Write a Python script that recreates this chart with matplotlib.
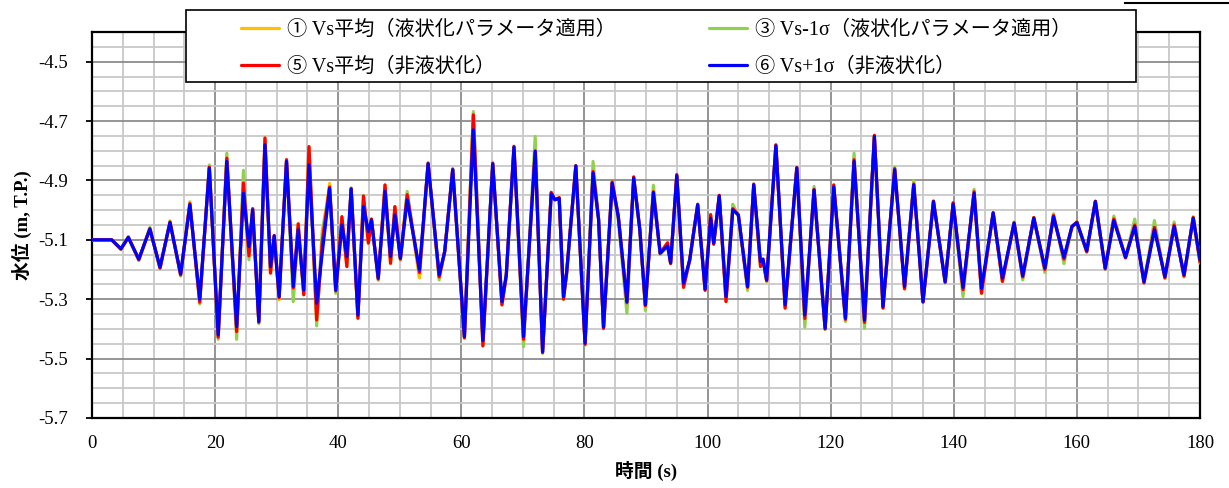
import matplotlib
matplotlib.use("Agg")
import matplotlib.pyplot as plt
import numpy as np
from matplotlib.lines import Line2D
from matplotlib.patches import Rectangle
from matplotlib.ticker import FixedLocator, MultipleLocator, FormatStrFormatter

plt.rcParams["font.family"] = ["Liberation Serif", "Noto Sans CJK JP"]

# time (s) of the read-off turning points
time = [
    0.0, 3.2, 4.7, 5.9, 7.6, 9.4, 11.05, 12.67, 14.4, 15.9,
    17.5, 19.06, 20.5, 21.9, 23.5, 24.6, 25.5, 26.1, 27.1, 28.1,
    29.0, 29.6, 30.4, 31.6, 32.7, 33.5, 34.4, 35.25, 36.5, 37.4,
    38.6, 39.6, 40.6, 41.4, 42.1, 43.2, 44.1, 44.9, 45.4, 46.5,
    47.6, 48.5, 49.2, 50.1, 51.2, 53.2, 54.6, 56.4, 57.3, 58.6,
    60.5, 61.95, 63.5, 65.1, 66.6, 67.3, 68.55, 70.1, 72.0, 73.2,
    74.6, 75.2, 75.9, 76.6, 77.1, 78.6, 80.1, 81.4, 82.3, 83.1,
    84.5, 85.5, 86.9, 88.0, 89.0, 89.9, 91.2, 92.3, 93.5, 94.0,
    95.0, 96.1, 97.1, 98.4, 99.6, 100.5, 101.0, 101.9, 103.0, 104.1,
    105.0, 106.5, 107.5, 108.6, 109.0, 109.6, 111.1, 112.6, 114.5, 115.8,
    117.3, 119.1, 120.5, 122.4, 123.8, 125.5, 127.1, 128.5, 130.4, 132.0,
    133.5, 135.0, 136.7, 138.6, 139.9, 141.5, 143.3, 144.5, 146.4, 147.9,
    149.8, 151.2, 153.0, 154.8, 156.2, 157.9, 159.2, 160.0, 161.6, 163.0,
    164.6, 166.0, 167.9, 169.4, 170.9, 172.6, 174.3, 175.8, 177.4, 178.9,
    180.0,
]

# (6) Vs+1σ non-liquefaction
vs_p1 = [
    -5.100, -5.100, -5.130, -5.092, -5.165, -5.064, -5.192, -5.042, -5.215, -4.982,
    -5.300, -4.858, -5.420, -4.836, -5.392, -4.943, -5.123, -4.999, -5.375, -4.780,
    -5.190, -5.087, -5.291, -4.836, -5.257, -5.066, -5.269, -4.847, -5.313, -5.145,
    -4.926, -5.269, -5.050, -5.156, -4.929, -5.353, -4.988, -5.072, -5.033, -5.229,
    -4.937, -5.156, -5.016, -5.162, -4.965, -5.201, -4.844, -5.218, -5.140, -4.864,
    -5.426, -4.729, -5.439, -4.844, -5.308, -5.218, -4.788, -5.426, -4.802, -5.477,
    -4.945, -4.965, -4.960, -5.291, -5.212, -4.851, -5.448, -4.875, -5.033, -5.394,
    -4.909, -5.022, -5.308, -4.892, -5.066, -5.319, -4.941, -5.145, -5.120, -5.177,
    -4.884, -5.246, -5.167, -4.982, -5.266, -5.027, -5.111, -4.952, -5.291, -4.999,
    -5.016, -5.257, -4.915, -5.173, -5.165, -5.235, -4.783, -5.319, -4.858, -5.353,
    -4.932, -5.398, -4.922, -5.364, -4.836, -5.370, -4.752, -5.325, -4.864, -5.257,
    -4.915, -5.308, -4.971, -5.241, -4.979, -5.260, -4.943, -5.263, -5.010, -5.229,
    -5.044, -5.221, -5.027, -5.195, -5.022, -5.159, -5.055, -5.042, -5.137, -4.971,
    -5.195, -5.035, -5.159, -5.055, -5.241, -5.066, -5.224, -5.055, -5.218, -5.027,
    -5.167,
]

# (5) Vs average non-liquefaction
vs_avg_nl = [
    -5.100, -5.100, -5.131, -5.091, -5.167, -5.062, -5.195, -5.040, -5.218, -4.978,
    -5.310, -4.855, -5.428, -4.825, -5.409, -4.909, -5.154, -4.995, -5.378, -4.757,
    -5.212, -5.085, -5.295, -4.830, -5.262, -5.046, -5.285, -4.786, -5.370, -5.106,
    -4.922, -5.272, -5.022, -5.190, -4.927, -5.364, -4.952, -5.111, -5.030, -5.232,
    -4.915, -5.179, -4.988, -5.165, -4.948, -5.210, -4.842, -5.225, -5.138, -4.862,
    -5.430, -4.679, -5.457, -4.842, -5.319, -5.220, -4.785, -5.435, -4.800, -5.480,
    -4.940, -4.965, -4.958, -5.300, -5.210, -4.850, -5.452, -4.870, -5.030, -5.398,
    -4.905, -5.020, -5.312, -4.888, -5.066, -5.322, -4.938, -5.145, -5.110, -5.180,
    -4.880, -5.260, -5.167, -4.980, -5.270, -5.015, -5.115, -4.950, -5.308, -4.995,
    -5.016, -5.260, -4.912, -5.190, -5.165, -5.238, -4.780, -5.330, -4.856, -5.365,
    -4.930, -5.400, -4.915, -5.368, -4.830, -5.378, -4.748, -5.330, -4.860, -5.265,
    -4.912, -5.310, -4.970, -5.243, -4.975, -5.268, -4.938, -5.280, -5.008, -5.240,
    -5.042, -5.225, -5.025, -5.200, -5.018, -5.165, -5.055, -5.040, -5.140, -4.970,
    -5.198, -5.030, -5.160, -5.050, -5.245, -5.058, -5.228, -5.050, -5.222, -5.025,
    -5.175,
]

# (3) Vs-1σ liquefaction parameters
vs_m1 = [
    -5.100, -5.100, -5.133, -5.089, -5.170, -5.058, -5.198, -5.036, -5.222, -4.972,
    -5.316, -4.848, -5.435, -4.808, -5.435, -4.866, -5.167, -4.995, -5.382, -4.770,
    -5.200, -5.090, -5.296, -4.838, -5.308, -5.060, -5.280, -4.800, -5.390, -5.072,
    -4.925, -5.280, -5.040, -5.170, -4.925, -5.360, -4.970, -5.095, -5.030, -5.236,
    -4.925, -5.170, -5.000, -5.168, -4.937, -5.225, -4.840, -5.235, -5.140, -4.860,
    -5.432, -4.668, -5.450, -4.840, -5.315, -5.225, -4.800, -5.460, -4.752, -5.482,
    -4.945, -4.965, -4.960, -5.295, -5.220, -4.855, -5.455, -4.836, -5.030, -5.400,
    -4.910, -5.035, -5.347, -4.895, -5.070, -5.338, -4.916, -5.150, -5.120, -5.180,
    -4.885, -5.255, -5.170, -4.985, -5.268, -5.025, -5.112, -4.955, -5.300, -4.980,
    -5.020, -5.270, -4.915, -5.180, -5.168, -5.240, -4.785, -5.325, -4.860, -5.394,
    -4.920, -5.402, -4.920, -5.375, -4.808, -5.398, -4.750, -5.328, -4.855, -5.262,
    -4.900, -5.310, -4.968, -5.245, -4.978, -5.291, -4.930, -5.275, -5.010, -5.238,
    -5.040, -5.235, -5.025, -5.210, -5.012, -5.180, -5.058, -5.040, -5.142, -4.970,
    -5.198, -5.020, -5.162, -5.030, -5.245, -5.035, -5.230, -5.040, -5.225, -5.022,
    -5.178,
]

# (1) Vs average liquefaction parameters
vs_avg_lq = [
    -5.100, -5.100, -5.131, -5.091, -5.167, -5.062, -5.195, -5.040, -5.218, -4.978,
    -5.310, -4.855, -5.428, -4.825, -5.409, -4.909, -5.154, -4.995, -5.378, -4.757,
    -5.212, -5.085, -5.302, -4.830, -5.262, -5.046, -5.285, -4.786, -5.370, -5.106,
    -4.910, -5.272, -5.022, -5.190, -4.927, -5.364, -4.952, -5.111, -5.030, -5.232,
    -4.915, -5.179, -4.988, -5.165, -4.948, -5.228, -4.842, -5.225, -5.138, -4.862,
    -5.430, -4.679, -5.457, -4.842, -5.319, -5.220, -4.785, -5.435, -4.800, -5.480,
    -4.940, -4.965, -4.958, -5.300, -5.210, -4.850, -5.452, -4.870, -5.030, -5.398,
    -4.905, -5.020, -5.312, -4.888, -5.066, -5.322, -4.938, -5.145, -5.110, -5.180,
    -4.880, -5.260, -5.167, -4.980, -5.270, -5.015, -5.115, -4.950, -5.308, -4.995,
    -5.016, -5.260, -4.912, -5.190, -5.165, -5.238, -4.780, -5.330, -4.856, -5.365,
    -4.930, -5.400, -4.915, -5.368, -4.830, -5.378, -4.748, -5.330, -4.860, -5.265,
    -4.912, -5.310, -4.970, -5.243, -4.975, -5.268, -4.938, -5.280, -5.008, -5.240,
    -5.042, -5.225, -5.025, -5.200, -5.018, -5.165, -5.055, -5.040, -5.140, -4.970,
    -5.198, -5.030, -5.160, -5.050, -5.245, -5.058, -5.228, -5.050, -5.222, -5.025,
    -5.175,
]

labels = [
    "① Vs平均（液状化パラメータ適用）",
    "③ Vs-1σ（液状化パラメータ適用）",
    "⑤ Vs平均（非液状化）",
    "⑥ Vs+1σ（非液状化）",
]
colors = ["#FFC000", "#92D050", "#FF0000", "#0000FF"]

W, H = 1229, 488
fig = plt.figure(figsize=(W / 100, H / 100), dpi=100)
ax = fig.add_axes([92 / W, 1 - 418 / H, (1200 - 92) / W, (418 - 32) / H])

kw = dict(lw=2.3, solid_joinstyle="round", solid_capstyle="round")
(l3,) = ax.plot(time, vs_m1, color=colors[1], zorder=3, **kw)
(l1,) = ax.plot(time, vs_avg_lq, color=colors[0], zorder=4, **kw)
(l5,) = ax.plot(time, vs_avg_nl, color=colors[2], zorder=5, **kw)
(l6,) = ax.plot(time, vs_p1, color=colors[3], zorder=6, **kw)

ax.set_xlim(0, 180)
ax.set_ylim(-5.7, -4.4)
ax.xaxis.set_major_locator(MultipleLocator(20))
ax.xaxis.set_minor_locator(MultipleLocator(5))
ax.yaxis.set_major_locator(FixedLocator(np.arange(-5.7, -4.45, 0.2)))
ax.yaxis.set_minor_locator(MultipleLocator(0.05))
ax.yaxis.set_major_formatter(FormatStrFormatter("%.1f"))

ax.grid(which="minor", color="#C8C8C8", lw=1.3, zorder=0)
ax.grid(which="major", color="#8C8C8C", lw=1.3, zorder=0)
ax.set_axisbelow(True)

ax.tick_params(axis="x", which="both", length=0, pad=12, labelsize=13.5)
ax.tick_params(axis="y", which="major", length=4, width=1.3, direction="out",
               pad=13, labelsize=13.5)
ax.tick_params(axis="y", which="minor", length=0)
for s in ax.spines.values():
    s.set_color("black")
    s.set_linewidth(1.6)

fig.text(646 / W, 1 - 471 / H, "時間 (s)", ha="center", va="center",
         fontsize=13.5, fontweight="bold")
fig.text(22 / W, 1 - 225 / H, "水位 (m, T.P.)", ha="center", va="center",
         rotation=90, fontsize=13.5, fontweight="bold")

# legend box sits over the top edge of the plot
fig.add_artist(Rectangle((186 / W, 1 - 82 / H), (1136 - 186) / W, 72 / H,
                         transform=fig.transFigure, facecolor="white",
                         edgecolor="black", lw=1.2, zorder=10))
leg = fig.legend([l1, l5, l3, l6], [labels[0], labels[2], labels[1], labels[3]],
                 ncol=2, loc="center left", bbox_to_anchor=(241 / W, 1 - 49 / H),
                 frameon=False, fontsize=14.5, handlelength=1.9, handletextpad=0.4,
                 columnspacing=4.6, labelspacing=0.85, borderpad=0, borderaxespad=0)
leg.set_zorder(11)

fig.add_artist(Line2D([1125 / W, 1.0], [1 - 2.5 / H, 1 - 2.5 / H],
                      transform=fig.transFigure, color="black", lw=1.5))

fig.savefig("out.png", dpi=100)
